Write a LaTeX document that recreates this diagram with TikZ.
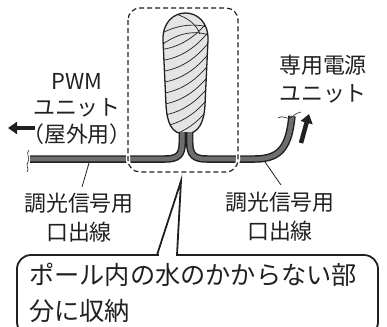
\documentclass[tikz,border=0pt]{standalone}
\usepackage{fontspec}
\setmainfont{Noto Sans CJK JP}[RawFeature=+palt]
\newfontfamily\plainjp{Noto Sans CJK JP}
\usetikzlibrary{arrows.meta}
\definecolor{ink}{HTML}{231F20}
\definecolor{cablegray}{HTML}{6D6E70}
\definecolor{tapegray}{HTML}{E3E4E5}
\tikzset{
  lbl/.style={text=ink, inner sep=0pt, align=center, font=\fontsize{22}{29}\selectfont},
  cableedge/.style={line width=7.5bp, ink, line cap=butt},
  cablecore/.style={line width=4.6bp, cablegray, line cap=butt},
  dashbox/.style={ink, line width=1.2bp, dash pattern=on 5bp off 3bp, rounded corners=12bp},
  leader/.style={ink, line width=0.8bp},
  fatarrow/.style={ink, line width=4.5bp, -{Triangle[length=9bp,width=12bp]}},
  waveend/.style={ink, line width=0.6bp},
  tape/.style={ink, line width=0.7bp},
}
\begin{document}
\begin{tikzpicture}[x=1bp,y=-1bp]
\useasboundingbox (0,0) rectangle (387,327);

% taped cable bundle
\def\bundle{(185,134) .. controls (171,134) and (167,122) .. (166,105)
  -- (163,40) .. controls (162,4) and (209,4) .. (208,40)
  -- (205,105) .. controls (204,122) and (199,134) .. (185,134) -- cycle}
\path[fill=tapegray] \bundle;
\begin{scope}
  \clip \bundle;
  \foreach \y in {50,61,...,150}
    \draw[tape] (158,\y) .. controls (180,\y-2) and (198,\y-14) .. (212,\y-34);
  \draw[tape] (160,34) .. controls (175,26) and (192,22) .. (212,28);
  \draw[tape] (163,44) .. controls (180,32) and (196,30) .. (212,36);
  \draw[tape] (176,14) .. controls (188,18) and (196,24) .. (200,34);
\end{scope}
\draw[ink, line width=1.3bp] \bundle;

% the two signal cables
\coordinate (lend) at (30,159);
\coordinate (rend) at (292,116);
\foreach \s in {cableedge,cablecore}{
  \draw[\s] (182.3,132) -- (182.3,142) .. controls (182.3,155) and (178,159) .. (165,159) -- (lend);
  \draw[\s] (189.7,132) -- (189.7,142) .. controls (189.7,155) and (194,159) .. (207,159)
    -- (255,159) .. controls (281,159) and (289,146) .. (rend);
}

% gaps where the dashed outline crosses the cables
\begin{scope}
  \clip (100,150) rectangle (260,168);
  \draw[white, line width=4bp, rounded corners=12bp] (128,8) rectangle (238,172);
\end{scope}
\draw[dashbox] (128,8) rectangle (238,172);

% cut ends
\draw[waveend] (29,150) .. controls (25,154) and (31,158) .. (28,162) .. controls (25,166) and (30,169) .. (27,172);
\draw[waveend] (278,118) .. controls (283,114) and (287,121) .. (292,117) .. controls (296,113) and (298,113) .. (301,112);

% direction arrows
\coordinate (la0) at (35,128);
\coordinate (la1) at (8,128);
\draw[fatarrow] (la0) -- (la1);
\coordinate (ra0) at (301,143);
\coordinate (ra1) at (309,114);
\draw[fatarrow] (ra0) -- (ra1);

% labels
\node[lbl, font=\fontsize{22}{26.5}\selectfont] (pwm) at (77,109) {PWM\\{\plainjp ユニット}\\（屋外用）};
\node[lbl, align=left, anchor=west, font=\plainjp\fontsize{22}{28}\selectfont] (psu) at (279,79) {専用電源\\ユニット};
\node[lbl] (lwire) at (79,218) {調光信号用\\口出線};
\node[lbl] (rwire) at (280,217) {調光信号用\\口出線};

\coordinate (lw0) at (89,163);
\coordinate (lw1) at (82,187);
\draw[leader] (lw0) -- (lw1);
\coordinate (rw0) at (265,162);
\coordinate (rw1) at (281,185);
\draw[leader] (rw0) -- (rw1);

% callout
\draw[ink, line width=1.8bp, rounded corners=14bp] (17,255) rectangle (378,336);
\fill[white] (158.5,252) rectangle (175.5,258);
\coordinate (tip) at (181,181);
\draw[ink, line width=1.8bp, line join=miter] (157,255) -- (tip) -- (177,255);
\node[lbl, align=left, anchor=north west, font=\plainjp\fontsize{25.3}{36}\selectfont] (note) at (29,263)
  {ポール内の水のかからない部\\分に収納};
\end{tikzpicture}
\end{document}
